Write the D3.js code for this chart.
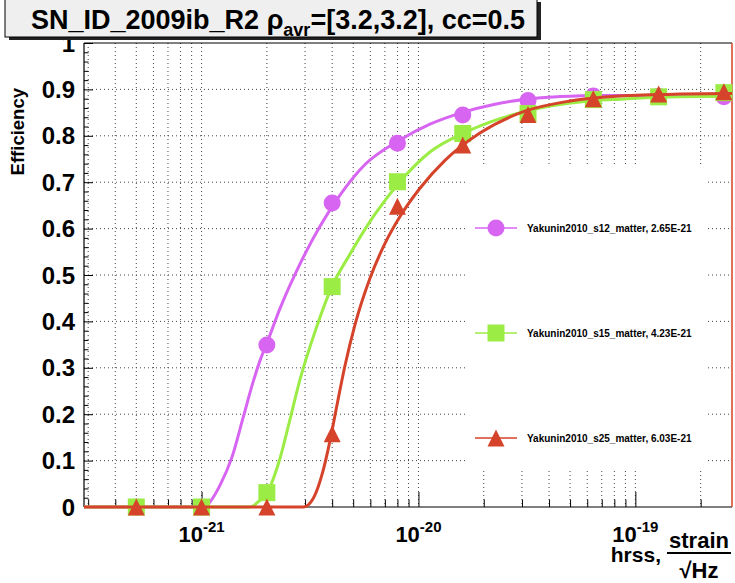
<!DOCTYPE html>
<html>
<head>
<meta charset="utf-8">
<script src="https://cdn.jsdelivr.net/npm/d3@7"></script>
<style>
  body { margin: 0; background: #fff; }
  text { font-family: "Liberation Sans", Arial, Helvetica, sans-serif; font-weight: bold; }
</style>
</head>
<body>
<div id="chart"></div>
<script>
// Efficiency vs hrss, three Yakunin2010 waveforms

// injected hrss values (same for all three series)
var hrss = [5e-22, 1e-21, 2e-21, 4e-21, 8e-21, 1.6e-20, 3.2e-20, 6.4e-20, 1.28e-19, 2.56e-19];

// measured efficiencies (markers)
var effS12 = [0, 0, 0.349, 0.655, 0.784, 0.845, 0.876, 0.886, 0.885, 0.884];
var effS15 = [0, 0, 0.031, 0.475, 0.701, 0.805, 0.848, 0.878, 0.884, 0.893];
var effS25 = [0, 0, 0, 0.158, 0.648, 0.780, 0.846, 0.880, 0.890, 0.895];

// fitted curves as [hrss, efficiency]
var fitS12 = [[2.87e-22, 0], [1.038e-21, 0], [1.094e-21, 0.011], [1.217e-21, 0.047], [1.382e-21, 0.108],
  [1.553e-21, 0.192], [1.727e-21, 0.269], [1.861e-21, 0.316], [2.0e-21, 0.353], [2.30e-21, 0.428],
  [2.844e-21, 0.524], [3.516e-21, 0.605], [4.346e-21, 0.672], [5.668e-21, 0.738], [8.218e-21, 0.791],
  [1.13e-20, 0.825], [1.587e-20, 0.850], [2.252e-20, 0.868], [3.265e-20, 0.880], [4.488e-20, 0.8845],
  [6.86e-20, 0.887], [2.79e-19, 0.887]];
var fitS15 = [[2.87e-22, 0], [1.673e-21, 0], [1.822e-21, 0.011], [2.0e-21, 0.030], [2.30e-21, 0.105],
  [2.557e-21, 0.189], [2.844e-21, 0.275], [3.335e-21, 0.378], [3.981e-21, 0.474], [4.834e-21, 0.545],
  [6.303e-21, 0.631], [8.218e-21, 0.701], [1.13e-20, 0.765], [1.638e-20, 0.807], [2.375e-20, 0.837],
  [3.63e-20, 0.860], [5.55e-20, 0.873], [8.484e-20, 0.879], [1.603e-19, 0.884], [2.79e-19, 0.885]];
var fitS25 = [[2.87e-22, 0], [2.945e-21, 0], [3.276e-21, 0.019], [3.641e-21, 0.080], [3.91e-21, 0.143],
  [4.211e-21, 0.220], [4.585e-21, 0.305], [5.098e-21, 0.393], [5.977e-21, 0.493], [7.009e-21, 0.568],
  [8.218e-21, 0.626], [1.016e-20, 0.687], [1.325e-20, 0.747], [1.92e-20, 0.806], [3.096e-20, 0.853],
  [4.991e-20, 0.875], [8.484e-20, 0.886], [1.603e-19, 0.890], [2.79e-19, 0.891]];

var seriesNames = ["Yakunin2010_s12_matter, 2.65E-21",
                   "Yakunin2010_s15_matter, 4.23E-21",
                   "Yakunin2010_s25_matter, 6.03E-21"];

var xTickLabels = [["10", "-21"], ["10", "-20"], ["10", "-19"]];
var yTickValues = [0, 0.1, 0.2, 0.3, 0.4, 0.5, 0.6, 0.7, 0.8, 0.9, 1];

// Define SVG area
var svgWidth = 735;
var svgHeight = 583;

var margin = { top: 43, right: 3, bottom: 76, left: 84 };
var width = svgWidth - margin.left - margin.right;
var height = svgHeight - margin.top - margin.bottom;

var colors = ["#d765f2", "#9bec45", "#d5432a"];
var shapes = ["circle", "square", "triangle"];

var svg = d3.select("#chart")
  .append("svg")
  .attr("width", svgWidth)
  .attr("height", svgHeight);

svg.append("rect").attr("width", svgWidth).attr("height", svgHeight).attr("fill", "#fff");

var chartGroup = svg.append("g")
  .attr("transform", `translate(${margin.left}, ${margin.top})`);

// scales
var xScale = d3.scaleLog()
  .domain([2.87e-22, 2.79e-19])
  .range([0, width]);

var yScale = d3.scaleLinear()
  .domain([0, 1])
  .range([height, 0]);

// grid
var xGrid = xScale.ticks();
chartGroup.append("g")
  .selectAll("line")
  .data(xGrid)
  .enter()
  .append("line")
  .attr("x1", d => xScale(d))
  .attr("x2", d => xScale(d))
  .attr("y1", 0)
  .attr("y2", height)
  .attr("stroke", "#444")
  .attr("stroke-width", 1)
  .attr("stroke-dasharray", "1,3");

chartGroup.append("g")
  .selectAll("line")
  .data(yTickValues.slice(1, -1))
  .enter()
  .append("line")
  .attr("x1", 0)
  .attr("x2", width)
  .attr("y1", d => yScale(d))
  .attr("y2", d => yScale(d))
  .attr("stroke", "#444")
  .attr("stroke-width", 1)
  .attr("stroke-dasharray", "1,3");

// axes, ROOT style: ticks pointing into the frame
var leftAxis = d3.axisRight(yScale)
  .tickValues(d3.range(0, 1.0001, 0.02))
  .tickSize(4.5)
  .tickFormat("");
var yAxisG = chartGroup.append("g").call(leftAxis);
yAxisG.selectAll(".tick line")
  .filter(d => Math.abs(d * 10 - Math.round(d * 10)) < 1e-6)
  .attr("x2", 9);

var bottomAxis = d3.axisTop(xScale)
  .tickValues(xGrid)
  .tickSize(7.5)
  .tickFormat("");
var xAxisG = chartGroup.append("g")
  .attr("transform", `translate(0, ${height})`)
  .call(bottomAxis);
xAxisG.selectAll(".tick line")
  .filter(d => Math.abs(Math.log10(d) - Math.round(Math.log10(d))) < 1e-6)
  .attr("y2", -15);
svg.selectAll(".domain").remove();
svg.selectAll(".tick line").attr("stroke", "#000");

// y tick labels
chartGroup.selectAll("text.ylab")
  .data(yTickValues)
  .enter()
  .append("text")
  .attr("class", "ylab")
  .attr("x", -9)
  .attr("y", d => yScale(d))
  .attr("dy", "0.36em")
  .attr("text-anchor", "end")
  .attr("font-size", "24px")
  .text(d => d3.format("")(d));

// x tick labels 10^n
var xLab = chartGroup.selectAll("text.xlab")
  .data(xTickLabels)
  .enter()
  .append("text")
  .attr("class", "xlab")
  .attr("x", d => xScale(Math.pow(10, +d[1])))
  .attr("y", height + 35)
  .attr("text-anchor", "middle")
  .attr("font-size", "22px");
xLab.append("tspan").text(d => d[0]);
xLab.append("tspan").attr("dy", -10).attr("font-size", "15px").text(d => d[1]);

// frame
chartGroup.append("line").attr("x1", 0).attr("x2", width).attr("y1", 0).attr("y2", 0)
  .attr("stroke", "#000").attr("stroke-width", 1);
chartGroup.append("line").attr("x1", 0).attr("x2", 0).attr("y1", 0).attr("y2", height)
  .attr("stroke", "#000").attr("stroke-width", 1.2);
chartGroup.append("line").attr("x1", 0).attr("x2", width).attr("y1", height).attr("y2", height)
  .attr("stroke", "#000").attr("stroke-width", 1.2);
chartGroup.append("line").attr("x1", width).attr("x2", width).attr("y1", 0).attr("y2", height)
  .attr("stroke", "#d5432a").attr("stroke-width", 1.5);

// curves and markers
chartGroup.append("clipPath").attr("id", "frameClip")
  .append("rect").attr("x", 0).attr("y", -2).attr("width", width).attr("height", height + 4);

var line = d3.line()
  .x(d => xScale(d[0]))
  .y(d => yScale(d[1]))
  .curve(d3.curveMonotoneX);

var symbolPath = {
  circle: "M0,-8.5A8.5,8.5 0 1,1 0,8.5A8.5,8.5 0 1,1 0,-8.5Z",
  square: "M-8.5,-8.5H8.5V8.5H-8.5Z",
  triangle: "M0,-8.5L8.5,8.5H-8.5Z"
};

var fits = [fitS12, fitS15, fitS25];
var effs = [effS12, effS15, effS25];

fits.forEach(function(fit, i) {
  chartGroup.append("path")
    .datum(fit)
    .attr("clip-path", "url(#frameClip)")
    .attr("d", line)
    .attr("fill", "none")
    .attr("stroke", colors[i])
    .attr("stroke-width", 3);

  chartGroup.selectAll("path.m" + i)
    .data(effs[i])
    .enter()
    .append("path")
    .attr("class", "m" + i)
    .attr("transform", (d, j) => `translate(${xScale(hrss[j])}, ${yScale(d)})`)
    .attr("d", symbolPath[shapes[i]])
    .attr("fill", colors[i]);
});

// legend
var legendRows = [228, 333, 438];
svg.append("rect")
  .attr("x", 466).attr("y", 165)
  .attr("width", 242).attr("height", 305)
  .attr("fill", "#fff");

seriesNames.forEach(function(name, i) {
  var g = svg.append("g").attr("transform", `translate(496, ${legendRows[i]})`);
  g.append("line").attr("x1", -21).attr("x2", 21)
    .attr("stroke", colors[i]).attr("stroke-width", 1.5);
  g.append("path").attr("d", symbolPath[shapes[i]]).attr("fill", colors[i]);
  g.append("text")
    .attr("x", 31).attr("y", 0).attr("dy", "0.36em")
    .attr("font-size", "10px")
    .text(name);
});

// axis titles
svg.append("text")
  .attr("transform", "translate(24, 88) rotate(-90)")
  .attr("text-anchor", "end")
  .attr("font-size", "18.5px")
  .text("Efficiency");

svg.append("text")
  .attr("x", 661).attr("y", 562)
  .attr("text-anchor", "end")
  .attr("font-size", "21px")
  .text("hrss,");
svg.append("text")
  .attr("x", 699).attr("y", 548)
  .attr("text-anchor", "middle")
  .attr("font-size", "22px")
  .text("strain");
svg.append("line")
  .attr("x1", 667).attr("x2", 731).attr("y1", 553).attr("y2", 553)
  .attr("stroke", "#000").attr("stroke-width", 2);
svg.append("text")
  .attr("x", 699).attr("y", 578)
  .attr("text-anchor", "middle")
  .attr("font-size", "22px")
  .text("\u221AHz");

// title box with shadow
svg.append("rect").attr("x", 9).attr("y", 2).attr("width", 532).attr("height", 38).attr("fill", "#222");
svg.append("rect").attr("x", 5).attr("y", -1).attr("width", 532).attr("height", 38)
  .attr("fill", "#efefef").attr("stroke", "#000").attr("stroke-width", 1);
var title = svg.append("text").attr("x", 31).attr("y", 29).attr("font-size", "27px");
title.append("tspan").text("SN_ID_2009ib_R2 \u03C1");
title.append("tspan").attr("dy", 7).attr("font-size", "18px").text("avr");
title.append("tspan").attr("dy", -7).text("=[3.2,3.2], cc=0.5");
</script>
</body>
</html>
